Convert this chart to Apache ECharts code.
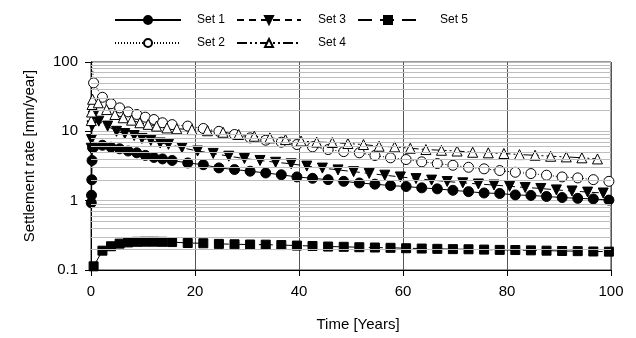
<!DOCTYPE html>
<html>
<head>
<meta charset="utf-8">
<script src="https://cdn.jsdelivr.net/npm/echarts@6/dist/echarts.min.js"></script>
<style>
  html, body { margin: 0; padding: 0; background: #fff; }
  #chart { width: 636px; height: 338px; }
</style>
</head>
<body>
<div id="chart"></div>
<script>
// time axis (years) for sets 1, 2 and 5
const years = [0.05, 0.1, 0.15, 0.2, 0.3, 0.5, 2.2, 3.85, 5.5, 7.15, 8.8, 10.45, 12.1, 13.75, 15.6,
  18.6, 21.6, 24.6, 27.6, 30.6, 33.6, 36.6, 39.6, 42.6, 45.6, 48.6, 51.6, 54.6, 57.6, 60.6,
  63.6, 66.6, 69.6, 72.6, 75.6, 78.6, 81.6, 84.6, 87.6, 90.6, 93.6, 96.6, 99.6];
// set 3 and set 4 markers sit at slightly different times
const years3 = [0.05, 0.1, 0.2, 0.45, 1.5, 3.2, 4.9, 6.5, 8.3, 9.8, 11.5, 13.3, 14.9,
  17.5, 20.5, 23.5, 26.5, 29.5, 32.5, 35.5, 38.5, 41.5, 44.5, 47.5, 50.5, 53.5, 56.5, 59.5,
  62.5, 65.5, 68.5, 71.5, 74.5, 77.5, 80.5, 83.5, 86.5, 89.5, 92.5, 95.5, 98.5];
const years4 = [0.05, 0.1, 0.2, 0.3, 1.4, 3.0, 4.6, 6.2, 7.8, 9.4, 11.0, 12.6, 14.6, 16.5,
  19.4, 22.4, 25.4, 28.4, 31.4, 34.4, 37.4, 40.4, 43.4, 46.4, 49.4, 52.4, 55.4, 58.4,
  61.4, 64.4, 67.4, 70.4, 73.4, 76.4, 79.4, 82.4, 85.4, 88.4, 91.4, 94.4, 97.4];

// settlement rate [mm/year]
const set1 = [0.93, 1.2, 2.0, 3.8, 5.8, 5.9, 6.3, 5.9, 5.6, 5.2, 4.9, 4.5, 4.2, 4.0, 3.8,
  3.5, 3.3, 2.97, 2.81, 2.66, 2.51, 2.36, 2.2, 2.1, 2.01, 1.9, 1.8, 1.73, 1.65, 1.6,
  1.53, 1.48, 1.41, 1.35, 1.29, 1.27, 1.21, 1.19, 1.15, 1.11, 1.08, 1.06, 1.02];
const set2 = [150, null, null, null, null, 50, 31, 25, 21.8, 19.1, 17.5, 16, 14.8, 13.3, 12.5,
  11.9, 11, 10.0, 9.0, 8.05, 7.45, 6.97, 6.45, 5.97, 5.46, 5.1, 4.9, 4.48, 4.15, 3.92,
  3.63, 3.43, 3.24, 3.03, 2.88, 2.72, 2.57, 2.46, 2.33, 2.2, 2.13, 2.01, 1.9];
const set3 = [5.7, 7.6, 12, 16.5, 14, 11.9, 10, 9.3, 8.7, 7.9, 7.4, 6.8, 6.5,
  5.8, 5.2, 4.8, 4.38, 4.05, 3.8, 3.58, 3.4, 3.15, 2.95, 2.78, 2.62, 2.47, 2.33, 2.2,
  2.08, 1.98, 1.89, 1.81, 1.74, 1.68, 1.61, 1.55, 1.5, 1.43, 1.38, 1.33, 1.29];
const set4 = [14.3, 19, 24.4, 29, 25.8, 20.6, 17.5, 15.7, 14.5, 13.3, 12.6, 11.9, 11.2, 10.9,
  10.6, 10.2, 9.7, 9.0, 8.5, 8.05, 7.6, 7.25, 7.0, 6.9, 6.67, 6.45, 6.1, 5.97,
  5.7, 5.46, 5.33, 5.2, 4.99, 4.9, 4.79, 4.62, 4.52, 4.37, 4.28, 4.15, 4.0];
const set5 = [null, null, null, null, null, 0.113, 0.19, 0.22, 0.24, 0.25, 0.255, 0.256, 0.256, 0.255, 0.253,
  0.245, 0.243, 0.238, 0.235, 0.233, 0.232, 0.229, 0.225, 0.222, 0.218, 0.216, 0.213, 0.211, 0.209, 0.206,
  0.204, 0.202, 0.2, 0.199, 0.197, 0.195, 0.194, 0.192, 0.19, 0.188, 0.187, 0.185, 0.184];

const xTicks = [0, 20, 40, 60, 80, 100];
const yTickLabels = ['0.1', '1', '10', '100'];
const minorGrid = [0.2, 0.3, 0.4, 0.5, 0.6, 0.7, 0.8, 0.9, 2, 3, 4, 5, 6, 7, 8, 9, 20, 30, 40, 50, 60, 70, 80, 90];

const FONT = "'Liberation Sans', Arial, sans-serif";

function pairs(xs, ys) {
  const out = [];
  xs.forEach((x, i) => { if (ys[i] != null) out.push([x, ys[i]]); });
  return out;
}

function lineSeries(name, xs, ys, dash, symbol, fill, extra) {
  return Object.assign({
    name: name,
    type: 'line',
    data: pairs(xs, ys),
    symbol: symbol,
    symbolSize: 10,
    clip: true,
    z: 3,
    lineStyle: { color: '#000', width: 1, type: dash },
    itemStyle: { color: fill, borderColor: '#000', borderWidth: 1 }
  }, extra || {});
}

function legendAt(name, left, top, width, pad) {
  return {
    data: [name],
    left: left,
    top: top,
    padding: 0,
    itemWidth: width,
    itemHeight: 10,
    selectedMode: false,
    textStyle: { fontFamily: FONT, fontSize: 12, color: '#000', padding: [0, 0, 0, pad] }
  };
}

const chart = echarts.init(document.getElementById('chart'), null, { renderer: 'canvas' });

chart.setOption({
  animation: false,
  backgroundColor: '#fff',
  textStyle: { fontFamily: FONT },
  legend: [
    legendAt('Set 1', 114, 14, 66, 11),
    legendAt('Set 3', 236, 14, 64, 12),
    legendAt('Set 5', 357, 14, 60, 17),
    legendAt('Set 2', 114, 37, 66, 11),
    legendAt('Set 4', 236, 37, 64, 12)
  ],
  grid: {
    left: 91, right: 25, top: 62, bottom: 68,
    show: true, borderColor: '#333', borderWidth: 1
  },
  xAxis: {
    type: 'value',
    min: 0, max: 100, interval: 20,
    name: 'Time [Years]',
    nameLocation: 'middle',
    nameGap: 47,
    nameTextStyle: { fontFamily: FONT, fontSize: 15, color: '#000', padding: [0, 0, 0, 14] },
    axisLine: { lineStyle: { color: '#000', width: 1 } },
    axisTick: { show: true, inside: false, length: 6, lineStyle: { color: '#000' } },
    axisLabel: {
      fontFamily: FONT, fontSize: 15, color: '#000', margin: 14,
      formatter: v => (xTicks.indexOf(v) >= 0 ? String(v) : '')
    },
    splitLine: { show: true, lineStyle: { color: '#555', width: 1 } }
  },
  yAxis: {
    type: 'log',
    logBase: 10,
    min: 0.1, max: 100,
    name: 'Settlement rate [mm/year]',
    nameLocation: 'middle',
    nameGap: 54,
    nameTextStyle: { fontFamily: FONT, fontSize: 15, color: '#000', padding: [0, 0, 0, 20] },
    axisLine: { show: true, lineStyle: { color: '#000', width: 1 } },
    axisTick: { show: true, inside: false, length: 6, lineStyle: { color: '#000' } },
    axisLabel: {
      fontFamily: FONT, fontSize: 15, color: '#000', margin: 13,
      formatter: v => {
        const i = Math.round(Math.log10(v)) + 1;
        return yTickLabels[i] || '';
      }
    },
    splitLine: { show: true, lineStyle: { color: '#bdbdbd', width: 1 } }
  },
  series: [
    {
      name: 'grid',
      type: 'line',
      data: [],
      z: 1,
      silent: true,
      markLine: {
        silent: true,
        symbol: ['none', 'none'],
        label: { show: false },
        animation: false,
        lineStyle: { color: '#bdbdbd', width: 1, type: 'solid' },
        data: minorGrid.map(v => ({ yAxis: v }))
      }
    },
    lineSeries('Set 1', years, set1, 'solid', 'circle', '#000'),
    lineSeries('Set 2', years, set2, [1, 2], 'circle', '#fff'),
    lineSeries('Set 3', years3, set3, [7, 5], 'triangle', '#000', { symbolRotate: 180 }),
    lineSeries('Set 4', years4, set4, [10, 3, 2, 3, 2, 3], 'triangle', '#fff'),
    lineSeries('Set 5', years, set5, [14, 8], 'rect', '#000', { symbolSize: 9 })
  ]
});
</script>
</body>
</html>
